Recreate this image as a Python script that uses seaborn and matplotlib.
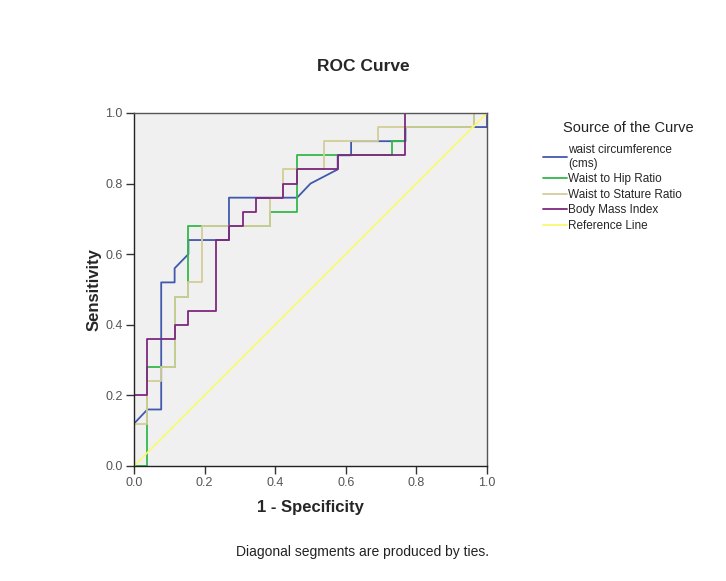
import pandas as pd
import matplotlib
matplotlib.use("Agg")
import matplotlib.pyplot as plt
import seaborn as sns

# ROC points (fpr = 1 - specificity, tpr = sensitivity)
waist_fpr = [0, 0, 0.038, 0.077, 0.077, 0.115, 0.115, 0.154, 0.154, 0.269, 0.269, 0.462, 0.5, 0.577, 0.577, 0.615, 0.615, 0.769, 0.769, 1.0, 1.0]
waist_tpr = [0, 0.12, 0.16, 0.16, 0.52, 0.52, 0.56, 0.60, 0.64, 0.64, 0.76, 0.76, 0.80, 0.84, 0.88, 0.88, 0.92, 0.92, 0.96, 0.96, 1.0]

hip_fpr = [0, 0.038, 0.038, 0.115, 0.115, 0.154, 0.154, 0.385, 0.385, 0.462, 0.462, 0.731, 0.731, 0.769, 0.769, 0.962, 0.962, 1.0]
hip_tpr = [0, 0, 0.28, 0.28, 0.48, 0.48, 0.68, 0.68, 0.72, 0.72, 0.88, 0.88, 0.92, 0.92, 0.96, 0.96, 1.0, 1.0]

stature_fpr = [0, 0, 0.038, 0.038, 0.077, 0.077, 0.115, 0.115, 0.154, 0.154, 0.192, 0.192, 0.385, 0.385, 0.423, 0.423, 0.538, 0.538, 0.692, 0.692, 0.962, 0.962, 1.0]
stature_tpr = [0, 0.12, 0.12, 0.24, 0.24, 0.28, 0.28, 0.48, 0.48, 0.52, 0.52, 0.68, 0.68, 0.76, 0.76, 0.84, 0.84, 0.92, 0.92, 0.96, 0.96, 1.0, 1.0]

bmi_fpr = [0, 0, 0.038, 0.038, 0.115, 0.115, 0.154, 0.154, 0.231, 0.231, 0.269, 0.269, 0.308, 0.308, 0.346, 0.346, 0.423, 0.423, 0.462, 0.462, 0.577, 0.577, 0.769, 0.769, 1.0]
bmi_tpr = [0, 0.20, 0.20, 0.36, 0.36, 0.40, 0.40, 0.44, 0.44, 0.64, 0.64, 0.68, 0.68, 0.72, 0.72, 0.76, 0.76, 0.80, 0.80, 0.84, 0.84, 0.88, 0.88, 1.0, 1.0]

ref_fpr = [0, 1]
ref_tpr = [0, 1]

curve_names = ["waist circumference\n(cms)", "Waist to Hip Ratio", "Waist to Stature Ratio",
               "Body Mass Index", "Reference Line"]
curve_colors = ["#4159ad", "#33b84a", "#d3ce97", "#7c287d", "#fbf873"]

frames = []
for name, xs, ys in zip(curve_names,
                        [waist_fpr, hip_fpr, stature_fpr, bmi_fpr, ref_fpr],
                        [waist_tpr, hip_tpr, stature_tpr, bmi_tpr, ref_tpr]):
    frames.append(pd.DataFrame({"fpr": xs, "tpr": ys, "curve": name}))
df = pd.concat(frames, ignore_index=True)

sns.set_style("white")
plt.rcParams["font.family"] = ["Liberation Sans", "DejaVu Sans"]

fig = plt.figure(figsize=(7.26, 5.81), dpi=100)
ax = fig.add_axes([0.1846, 0.198, 0.4862, 0.6076])
ax.set_facecolor("#f0f0f0")

sns.lineplot(data=df, x="fpr", y="tpr", hue="curve", hue_order=curve_names,
             palette=curve_colors, sort=False, estimator=None, linewidth=1.3,
             ax=ax, legend=False)

ax.set_xlim(0, 1)
ax.set_ylim(0, 1)
ticks = [0, 0.2, 0.4, 0.6, 0.8, 1.0]
ax.set_xticks(ticks)
ax.set_yticks(ticks)
ax.set_xticklabels([f"{t:.1f}" for t in ticks])
ax.set_yticklabels([f"{t:.1f}" for t in ticks])
ax.tick_params(direction="out", length=6, width=1, colors="#333333", labelsize=9,
               labelcolor="#555555", bottom=True, left=True, pad=2)
for side in ["left", "bottom"]:
    ax.spines[side].set_color("#222222")
    ax.spines[side].set_linewidth(1.0)
for side in ["top", "right"]:
    ax.spines[side].set_color("#555555")
    ax.spines[side].set_linewidth(1.0)

ax.set_xlabel("1 - Specificity", fontsize=12, fontweight="bold", labelpad=8)
ax.set_ylabel("Sensitivity", fontsize=12, fontweight="bold", labelpad=3)

fig.text(0.5, 0.885, "ROC Curve", ha="center", va="center", fontsize=12.5, fontweight="bold")
fig.text(0.5, 0.05, "Diagonal segments are produced by ties.", ha="center", va="center",
         fontsize=10, color="#222222")

# legend title drawn separately so the gap above the entries matches
fig.text(563 / 726, 1 - 128 / 581, "Source of the Curve", ha="left", va="center",
         fontsize=10.5, color="#222222")
handles = ax.get_lines()[:len(curve_names)]
fig.legend(handles, curve_names, loc="upper left", bbox_to_anchor=(0.748, 1 - 144 / 581),
           frameon=False, fontsize=8.5, handlelength=2.0, handletextpad=0.15,
           labelspacing=0.3, borderaxespad=0, borderpad=0)

fig.savefig("out.png", dpi=100)
